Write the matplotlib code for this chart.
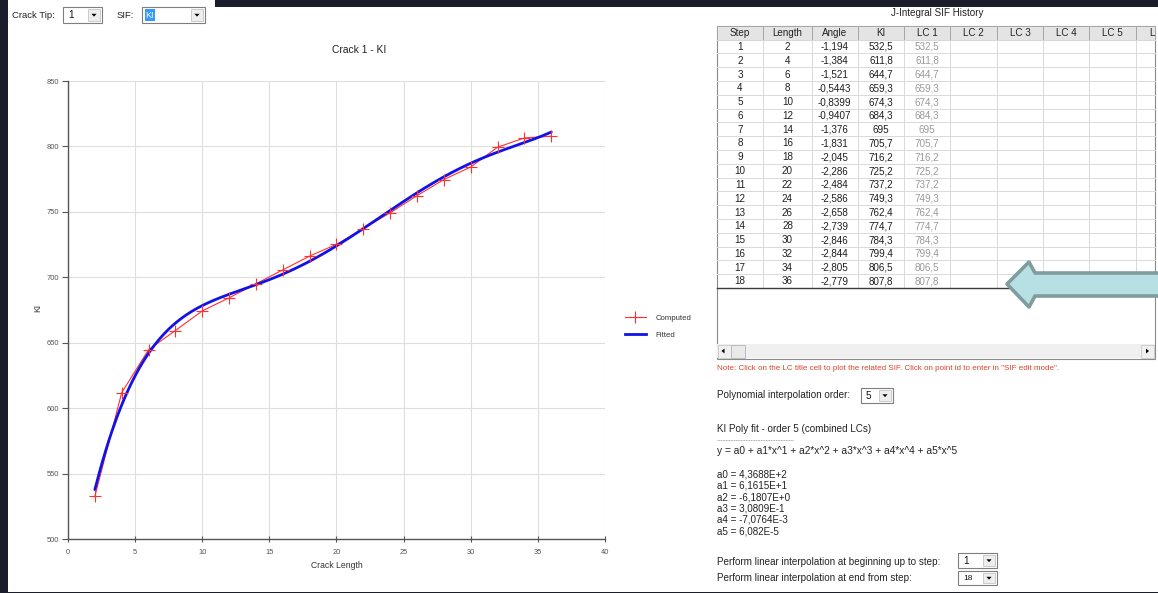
import matplotlib
matplotlib.use('Agg')
import matplotlib.pyplot as plt
import numpy as np
from matplotlib.patches import Rectangle, Polygon

# ---------------- data ----------------
steps = list(range(1, 19))
crack_length = [2, 4, 6, 8, 10, 12, 14, 16, 18, 20, 22, 24, 26, 28, 30, 32, 34, 36]
angle = [-1.194, -1.384, -1.521, -0.5443, -0.8399, -0.9407, -1.376, -1.831, -2.045,
         -2.286, -2.484, -2.586, -2.658, -2.739, -2.846, -2.844, -2.805, -2.779]
ki_computed = [532.5, 611.8, 644.7, 659.3, 674.3, 684.3, 695, 705.7, 716.2,
               725.2, 737.2, 749.3, 762.4, 774.7, 784.3, 799.4, 806.5, 807.8]
poly_coeffs = [4.3688e2, 6.1615e1, -6.1807e0, 3.0809e-1, -7.0764e-3, 6.082e-5]
coeff_labels = ['4,3688E+2', '6,1615E+1', '-6,1807E+0', '3,0809E-1', '-7,0764E-3', '6,082E-5']
table_headers = ['Step', 'Length', 'Angle', 'KI', 'LC 1', 'LC 2', 'LC 3', 'LC 4', 'LC 5', 'L']
x_ticks = [0, 5, 10, 15, 20, 25, 30, 35, 40]
y_ticks = [500, 550, 600, 650, 700, 750, 800, 850]

W, H = 1158, 593
GUI_FONT = 'Liberation Sans'
FS = 7.1
plt.rcParams['font.family'] = [GUI_FONT, 'DejaVu Sans']

fig = plt.figure(figsize=(W / 100, H / 100), dpi=100, facecolor='#1a1e2b')

# overlay axes in pixel coordinates (y downward)
bg = fig.add_axes([0, 0, 1, 1], zorder=0)
bg.set_xlim(0, W)
bg.set_ylim(H, 0)
bg.axis('off')

def rect(x, y, w, h, fc='white', ec='none', lw=0.8, z=1):
    bg.add_patch(Rectangle((x, y), w, h, facecolor=fc, edgecolor=ec, linewidth=lw, zorder=z))

def txt(x, y, s, size=FS, color='#222222', ha='left', va='center', **kw):
    return bg.text(x, y, s, fontsize=size, color=color, ha=ha, va=va, **kw)

# app background
rect(8, 0, 207, 592)
rect(8, 7, W - 8, 585)

def combo(x0, y0, x1, y1, s, highlight=False, size=FS):
    rect(x0, y0, x1 - x0, y1 - y0, fc='white', ec='#7f7f7f', lw=0.8, z=3)
    rect(x1 - 14, y0 + 2, 12, y1 - y0 - 4, fc='#eeeeee', ec='#c4c4c4', lw=0.6, z=4)
    cx, cy = x1 - 8, (y0 + y1) / 2
    bg.add_patch(Polygon([(cx - 2.6, cy - 1.2), (cx + 2.6, cy - 1.2), (cx, cy + 1.6)],
                         closed=True, facecolor='black', edgecolor='none', zorder=5))
    if highlight:
        rect(x0 + 3, y0 + 2, 10, y1 - y0 - 4, fc='#3399ff', z=4)
        txt(x0 + 8, (y0 + y1) / 2, s, size=size - 0.6, color='white', ha='center', zorder=6)
    else:
        txt(x0 + 5, (y0 + y1) / 2 + 0.5, s, size=size, color='#111111', zorder=6)

# top controls
txt(12, 15, 'Crack Tip:', size=6.8)
combo(63, 7, 102, 23, '1')
txt(117, 15, 'SIF:', size=6.8)
combo(142, 7, 205, 23, 'KI', highlight=True)

# ---------------- chart ----------------
ax_l, ax_r, ax_t, ax_b = 68, 605, 81, 539
ax = fig.add_axes([ax_l / W, (H - ax_b) / H, (ax_r - ax_l) / W, (ax_b - ax_t) / H], zorder=2)
ax.set_facecolor('white')

x_fit = np.linspace(crack_length[0], crack_length[-1], 300)
y_fit = np.polyval(poly_coeffs[::-1], x_fit)

ax.plot(crack_length, ki_computed, color='#ff3030', lw=0.8, zorder=3)
ax.plot(x_fit, y_fit, color='#1212e8', lw=2.0, zorder=4, solid_capstyle='round')
ax.plot(crack_length, ki_computed, linestyle='none', marker='+', markersize=9,
        markeredgewidth=0.8, color='#ff3030', zorder=5)
# legend proxies
h1, = ax.plot([], [], color='#ff3030', lw=0.8, marker='+', markersize=9, markeredgewidth=0.8)
h2, = ax.plot([], [], color='#1212e8', lw=2.0)
leg = ax.legend([h1, h2], ['Computed', 'Fitted'], loc='upper left',
                bbox_to_anchor=((625 - ax_l) / (ax_r - ax_l), (ax_b - 314.5) / (ax_b - ax_t)),
                frameon=False, fontsize=5.6, handlelength=2.7, handletextpad=1.2,
                labelspacing=1.2, borderpad=0, borderaxespad=0)
for t in leg.get_texts():
    t.set_color('#333333')

ax.set_xlim(0, 40)
ax.set_ylim(500, 850)
ax.set_xticks(x_ticks)
ax.set_yticks(y_ticks)
ax.grid(True, color='#dedede', lw=0.8)
ax.set_axisbelow(True)
for s in ['top', 'right']:
    ax.spines[s].set_visible(False)
for s in ['left', 'bottom']:
    ax.spines[s].set_color('#555555')
    ax.spines[s].set_linewidth(1.0)
ax.tick_params(axis='y', direction='out', length=4.3, width=0.8, color='#555555',
               labelsize=5.4, labelcolor='#555555', pad=2)
ax.tick_params(axis='x', direction='inout', length=5.0, width=0.8, color='#555555',
               labelsize=5.4, labelcolor='#555555', pad=4.5)
ax.set_xlabel('Crack Length', fontsize=6.2, color='#333333')
ax.xaxis.set_label_coords(0.5, (ax_b - 561) / (ax_b - ax_t))
ax.set_ylabel('KI', fontsize=6.2, color='#333333')
ax.yaxis.set_label_coords((42 - ax_l) / (ax_r - ax_l), 0.504)
ax.set_title('Crack 1 - KI', fontsize=7.4, color='#222222',
             x=(359 - ax_l) / (ax_r - ax_l), pad=20)

# ---------------- right panel ----------------
txt(937, 13, 'J-Integral SIF History', ha='center')

col_edges = [716.7, 763.3, 811.7, 857.7, 904.3, 950, 996.7, 1043.3, 1089.3, 1136, 1155]
tbl_l, tbl_r, tbl_t = 716.7, 1155, 26
hdr_b = 39.5
row_h = 13.8
tbl_rows_b = hdr_b + row_h * len(steps)

# table frame & background
rect(tbl_l, tbl_t, tbl_r - tbl_l, 359 - tbl_t, fc='white', ec='#8a8a8a', lw=0.8, z=1)
# header
for i in range(len(table_headers)):
    x0 = col_edges[i]
    x1 = col_edges[i + 1]
    rect(x0, tbl_t, x1 - x0, hdr_b - tbl_t, fc='#e4e4e4', ec='#a6a6a6', lw=0.7, z=2)
    if i < len(table_headers) - 1:
        cx = (x0 + x1) / 2
        txt(cx, (tbl_t + hdr_b) / 2 + 0.5, table_headers[i], ha='center', zorder=3)
    else:
        txt(x0 + 13.5, (tbl_t + hdr_b) / 2 + 0.5, table_headers[i], ha='left', zorder=3)
# grid lines of body
for j in range(len(steps) + 1):
    y = hdr_b + j * row_h
    bg.plot([tbl_l, tbl_r], [y, y], color='#d9d9d9', lw=0.7, zorder=2)
for x in col_edges[1:-1]:
    bg.plot([x, x], [hdr_b, tbl_rows_b], color='#d9d9d9', lw=0.7, zorder=2)
bg.plot([tbl_l, tbl_r], [tbl_rows_b, tbl_rows_b], color='#3a3a3a', lw=1.0, zorder=3)

def fmt(v):
    return ('%g' % v).replace('.', ',')

for j in range(len(steps)):
    cy = hdr_b + (j + 0.5) * row_h + 0.5
    vals = [str(steps[j]), str(crack_length[j]), fmt(angle[j]), fmt(ki_computed[j]), fmt(ki_computed[j])]
    for i, v in enumerate(vals):
        cx = (col_edges[i] + col_edges[i + 1]) / 2
        txt(cx, cy, v, ha='center', color='#9a9a9a' if i == 4 else '#1e1e1e', zorder=3)

# scrollbar
rect(tbl_l + 0.5, 344, tbl_r - tbl_l - 1, 14, fc='#f0f0f0', z=2)
rect(tbl_l + 1, 344.5, 13, 13, fc='#f0f0f0', ec='#c8c8c8', lw=0.6, z=3)
rect(731, 344.5, 14, 13, fc='#e9e9e9', ec='#b4b4b4', lw=0.6, z=3)
rect(1141, 344.5, 13, 13, fc='#f0f0f0', ec='#c8c8c8', lw=0.6, z=3)
bg.add_patch(Polygon([(721.5, 351), (724.5, 348.5), (724.5, 353.5)], closed=True,
                     facecolor='black', edgecolor='none', zorder=4))
bg.add_patch(Polygon([(1149, 351), (1146, 348.5), (1146, 353.5)], closed=True,
                     facecolor='black', edgecolor='none', zorder=4))

# arrow
arrow_pts = [(1007, 284), (1029, 262), (1035, 273), (1162, 273), (1162, 296),
             (1035, 296), (1029, 307)]
bg.add_patch(Polygon(arrow_pts, closed=True, facecolor='#b7e0e4', edgecolor='#7f9c9e',
                     linewidth=2.6, joinstyle='round', zorder=6))

# note
txt(717, 369, 'Note: Click on the LC title cell to plot the related SIF. Click on point id to enter in "SIF edit mode".',
    size=5.8, color='#d8462a')

txt(717, 395.5, 'Polynomial interpolation order:')
combo(861, 388, 893, 403, '5')

txt(717, 429, 'KI Poly fit - order 5 (combined LCs)')
bg.plot([717, 793], [440, 440], color='#9a9a9a', lw=0.6, dashes=(1.2, 0.8), zorder=2)
txt(717, 451.5, 'y = a0 + a1*x^1 + a2*x^2 + a3*x^3 + a4*x^4 + a5*x^5', size=7.3)
coef_y = [474.3, 485.7, 497.2, 508.5, 519.9, 531.2]
for k, lab in enumerate(coeff_labels):
    txt(717, coef_y[k], 'a%d = %s' % (k, lab))

txt(717, 561.7, 'Perform linear interpolation at beginning up to step:')
combo(958, 553, 997, 568, '1')
txt(717, 577.7, 'Perform linear interpolation at end from step:')
combo(958, 571, 997, 585, '18', size=6.0)

fig.savefig('out.png', dpi=100, facecolor=fig.get_facecolor())
